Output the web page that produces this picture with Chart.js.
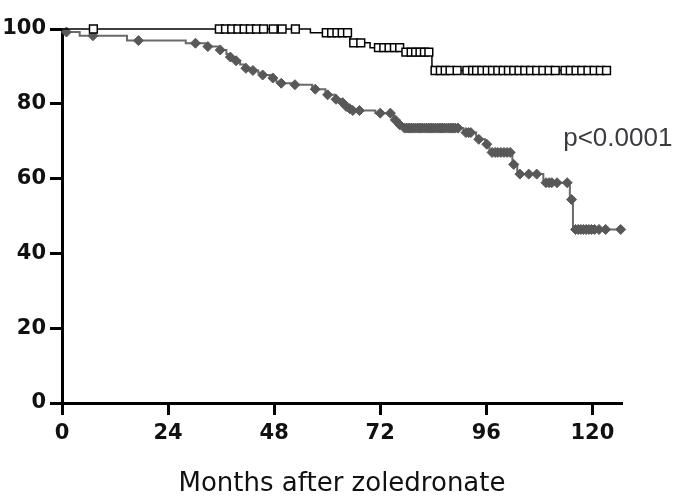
<!DOCTYPE html>
<html>
<head>
<meta charset="utf-8">
<script src="https://cdn.jsdelivr.net/npm/chart.js@4/dist/chart.umd.min.js"></script>
<style>
  html, body { margin: 0; padding: 0; background: #fff; }
  #chart { display: block; }
</style>
</head>
<body>
<canvas id="chart" width="676" height="500"></canvas>
<script>
"use strict";

/* ---- data (months, % surviving) ---- */
var xTicks = [0, 24, 48, 72, 96, 120];
var yTicks = [0, 20, 40, 60, 80, 100];
var xTitle = "Months after zoledronate";
var pText = "p<0.0001";

// group A: open squares (step curve + censor marks)
var groupATimes = [0, 56.2, 65.2, 69.7, 77.0, 83.7, 123.2];
var groupASurv = [100, 99.0, 96.3, 95.0, 93.8, 88.9, 88.9];
var groupACensor = [7.1, 35.6, 37.0, 38.4, 39.8, 41.2, 42.6, 44.0, 45.6, 47.8, 49.8, 52.8,
  59.8, 61.0, 62.2, 63.4, 64.6, 66.0, 67.6, 71.6, 72.8, 74.0, 75.2, 76.4,
  77.8, 79.0, 80.0, 81.0, 82.0, 83.0, 84.4, 85.6, 86.7, 87.8, 89.4,
  91.6, 92.9, 93.8, 95.0, 96.2, 97.4, 98.6, 99.8, 101.0, 102.2, 103.4, 104.7,
  106.0, 107.4, 108.8, 110.2, 111.6, 113.8, 115.0, 116.3, 117.6, 119.0, 120.4, 121.8, 123.2];

// group B: filled grey diamonds
var groupBTimes = [0, 1, 4, 14.7, 28, 32.5, 35.4, 37.2, 38, 39.2, 40.3, 41.5, 42.6, 44.4, 45.3,
  47.1, 48.5, 49.4, 52.1, 56.6, 59.6, 61.8, 63.2, 63.7, 64.5, 65.2, 70.9, 75, 76.1, 77.2,
  90.8, 93.7, 95.7, 96.7, 101.9, 103, 108.9, 114.9, 115.6, 126.4];
var groupBSurv = [100, 99.2, 98.2, 96.9, 96.2, 95.3, 94.4, 93.3, 92.5, 91.5, 90.5, 89.5, 88.9, 88.3, 87.7,
  86.9, 85.9, 85.5, 85.1, 83.9, 82.4, 81.2, 80.3, 79.3, 78.7, 78.2, 77.5, 75.7, 74.4, 73.5,
  72.3, 70.5, 69.2, 67.0, 63.8, 61.2, 58.9, 54.4, 46.4, 46.4];
var groupBCensor = [1, 7, 17.3, 30.2, 33, 35.8, 38.1, 39.4, 41.6, 43.2, 45.4, 47.7, 49.6, 52.7,
  57.3, 60.1, 62, 63.5, 64.3, 65.1, 65.8, 67.3, 72, 74.3, 75.4, 76.4, 77.5, 78, 78.5, 79, 79.5,
  80, 80.5, 81, 81.5, 82, 82.5, 83, 83.5, 84, 84.5, 85, 85.5, 86, 86.5, 87, 87.5, 88,
  88.5, 89, 89.6, 91.4, 92, 92.5, 94.3, 96.1, 97.3, 98, 98.6, 99.3,
  100, 100.7, 101.4, 102.2, 103.6, 105.6, 107.4, 109.5, 110.2, 110.8, 112, 114.3, 115.3,
  116.2, 116.8, 117.4, 118, 118.6, 119.2, 119.8, 120.5, 121.5, 123, 126.4];

/* ---- helpers ---- */
function survAt(times, surv, t) {
  var v = surv[0];
  for (var i = 0; i < times.length; i++) {
    if (times[i] <= t) v = surv[i];
  }
  return v;
}

function curve(times, surv) {
  return times.map(function (t, i) { return { x: t, y: surv[i] }; });
}

function marks(censor, times, surv) {
  return censor.map(function (t) { return { x: t, y: survAt(times, surv, t) }; });
}

var tickFont = { family: "'DejaVu Sans', sans-serif", size: 21, weight: "bold" };

// p-value annotation placed in data units
var pValuePlugin = {
  id: "pvalue",
  afterDatasetsDraw: function (chart) {
    var ctx = chart.ctx;
    var px = chart.scales.x.getPixelForValue(113.4);
    var py = chart.scales.y.getPixelForValue(68.8);
    ctx.save();
    ctx.font = "26px 'Liberation Sans', Arial, sans-serif";
    ctx.fillStyle = "#3d3a40";
    ctx.textAlign = "left";
    ctx.textBaseline = "alphabetic";
    ctx.fillText(pText, px, py);
    ctx.restore();
  }
};

new Chart(document.getElementById("chart"), {
  type: "line",
  data: {
    datasets: [
      {
        data: marks(groupACensor, groupATimes, groupASurv),
        showLine: false,
        pointStyle: "rect",
        pointRadius: 5.5,
        pointBackgroundColor: "#fff",
        pointBorderColor: "#000",
        pointBorderWidth: 1.5,
        order: 0
      },
      {
        data: curve(groupATimes, groupASurv),
        stepped: true,
        borderColor: "#000",
        borderWidth: 1.5,
        pointRadius: 0,
        order: 1
      },
      {
        data: marks(groupBCensor, groupBTimes, groupBSurv),
        showLine: false,
        pointStyle: "rectRot",
        pointRadius: 5,
        pointBackgroundColor: "#585858",
        pointBorderColor: "#585858",
        pointBorderWidth: 1,
        order: 2
      },
      {
        data: curve(groupBTimes, groupBSurv),
        stepped: true,
        borderColor: "#6a6a6a",
        borderWidth: 2,
        pointRadius: 0,
        order: 3
      }
    ]
  },
  options: {
    responsive: false,
    animation: false,
    clip: false,
    layout: { padding: { top: 29, right: 54, left: 0, bottom: 0 } },
    plugins: { legend: { display: false }, tooltip: { enabled: false } },
    scales: {
      x: {
        type: "linear",
        min: 0,
        max: 126.7,
        afterFit: function (scale) { scale.height = 97; },
        afterBuildTicks: function (scale) {
          scale.ticks = xTicks.map(function (v) { return { value: v }; });
        },
        grid: { drawOnChartArea: false, drawTicks: true, tickLength: 12, tickWidth: 3, tickColor: "#000" },
        border: { display: true, color: "#000", width: 3 },
        ticks: { color: "#111", font: tickFont, padding: 6, maxRotation: 0 },
        title: {
          display: true,
          text: xTitle,
          color: "#111",
          font: { family: "'DejaVu Sans', sans-serif", size: 26 },
          padding: { top: 0, bottom: 0 }
        }
      },
      y: {
        min: 0,
        max: 100,
        afterFit: function (scale) { scale.width = 62; },
        afterBuildTicks: function (scale) {
          scale.ticks = yTicks.map(function (v) { return { value: v }; });
        },
        grid: { drawOnChartArea: false, drawTicks: true, tickLength: 12, tickWidth: 3, tickColor: "#000" },
        border: { display: true, color: "#000", width: 3 },
        ticks: { color: "#111", font: tickFont, padding: 4 }
      }
    }
  },
  plugins: [pValuePlugin]
});
</script>
</body>
</html>
